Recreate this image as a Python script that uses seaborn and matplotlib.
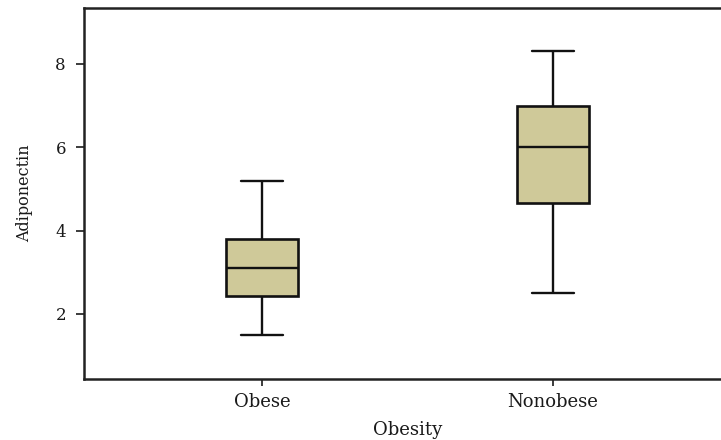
import numpy as np
import pandas as pd
import matplotlib
matplotlib.use("Agg")
import matplotlib.pyplot as plt
import seaborn as sns

# five-number summaries (min, q1, median, q3, max)
groups = ["Obese", "Nonobese"]
obese_vals = [1.5, 2.44, 3.1, 3.8, 5.2]
nonobese_vals = [2.5, 4.66, 6.0, 7.0, 8.3]
y_ticks = [2, 4, 6, 8]

df = pd.DataFrame({
    "Obesity": [groups[0]] * len(obese_vals) + [groups[1]] * len(nonobese_vals),
    "Adiponectin": obese_vals + nonobese_vals,
})

sns.set_style("ticks")
plt.rcParams["font.family"] = ["DejaVu Serif"]
text_col = "#1a1a1a"

fig = plt.figure(figsize=(7.21, 4.40), dpi=100)
ax = fig.add_axes([84 / 721, 61 / 440, 647 / 721, 371 / 440])

line_kw = dict(color="#111111", linewidth=1.7)
sns.boxplot(data=df, x="Obesity", y="Adiponectin", order=groups, ax=ax,
            color="#cfc999", saturation=1, width=0.25, whis=np.inf,
            linecolor="#111111", linewidth=1.7, capwidths=0.145,
            boxprops=dict(edgecolor="#111111", linewidth=1.9),
            medianprops=line_kw, whiskerprops=line_kw, capprops=line_kw)

ax.set_xlim(-0.612, 1.612)
ax.set_ylim(0.44, 9.34)
ax.set_yticks(y_ticks)

for side in ["left", "bottom", "top"]:
    ax.spines[side].set_visible(True)
    ax.spines[side].set_linewidth(1.8)
    ax.spines[side].set_color("#222222")
ax.spines["right"].set_visible(False)

ax.tick_params(axis="y", length=6, width=1.2, pad=7, labelsize=12, colors=text_col)
ax.tick_params(axis="x", length=5, width=1.2, pad=5, labelsize=13, colors=text_col)

ax.set_ylabel("Adiponectin", fontsize=11.5, color=text_col)
ax.set_xlabel("Obesity", fontsize=13, color=text_col)
ax.yaxis.set_label_coords(-0.079, 0.5)
ax.xaxis.set_label_coords(0.5, -0.113)

fig.savefig("out.png", dpi=100)
